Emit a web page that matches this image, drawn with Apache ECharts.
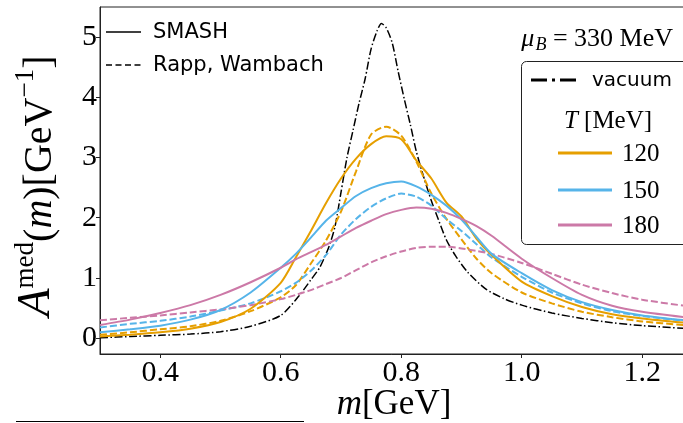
<!DOCTYPE html>
<html><head><meta charset="utf-8">
<script src="https://cdn.jsdelivr.net/npm/echarts@6/dist/echarts.min.js"></script>
<style>html,body{margin:0;padding:0;background:#fff}#c{width:683px;height:423px}</style>
</head><body><div id="c"></div>
<script>
// ---- data ----
const massGrid = [0.30, 0.35, 0.40, 0.45, 0.50, 0.55, 0.60, 0.625, 0.65, 0.675, 0.70, 0.725, 0.75, 0.775, 0.80, 0.825, 0.85, 0.875, 0.90, 0.925, 0.95, 1.00, 1.05, 1.10, 1.15, 1.20, 1.27];
const smash120 = [0.03, 0.06, 0.10, 0.16, 0.27, 0.49, 0.92, 1.34, 1.78, 2.24, 2.65, 2.98, 3.22, 3.35, 3.30, 2.95, 2.65, 2.25, 2.02, 1.65, 1.38, 0.94, 0.70, 0.52, 0.40, 0.33, 0.26];
const rw120    = [0.06, 0.10, 0.15, 0.20, 0.29, 0.45, 0.68, 0.88, 1.24, 1.62, 2.10, 2.77, 3.38, 3.51, 3.36, 2.93, 2.40, 1.98, 1.64, 1.32, 1.08, 0.76, 0.58, 0.44, 0.35, 0.28, 0.22];
const smash150 = [0.10, 0.15, 0.21, 0.31, 0.47, 0.76, 1.17, 1.40, 1.67, 1.95, 2.16, 2.36, 2.49, 2.57, 2.60, 2.52, 2.38, 2.20, 1.97, 1.68, 1.40, 1.08, 0.80, 0.60, 0.47, 0.38, 0.30];
const rw150    = [0.18, 0.24, 0.29, 0.36, 0.46, 0.58, 0.78, 0.92, 1.12, 1.38, 1.72, 1.98, 2.18, 2.32, 2.40, 2.35, 2.20, 1.98, 1.78, 1.56, 1.34, 1.02, 0.76, 0.58, 0.45, 0.37, 0.29];
const smash180 = [0.22, 0.31, 0.42, 0.55, 0.72, 0.93, 1.17, 1.31, 1.43, 1.55, 1.69, 1.83, 1.95, 2.06, 2.13, 2.17, 2.15, 2.08, 1.98, 1.86, 1.70, 1.32, 1.00, 0.72, 0.54, 0.44, 0.35];
const rw180    = [0.30, 0.34, 0.38, 0.43, 0.48, 0.55, 0.65, 0.72, 0.80, 0.90, 1.00, 1.13, 1.26, 1.36, 1.44, 1.50, 1.52, 1.52, 1.49, 1.45, 1.40, 1.25, 1.07, 0.89, 0.75, 0.64, 0.54];
const vacMass  = [0.30, 0.35, 0.40, 0.45, 0.50, 0.55, 0.60, 0.63, 0.65, 0.665, 0.68, 0.69, 0.70, 0.71, 0.72, 0.73, 0.74, 0.75, 0.76, 0.767, 0.775, 0.785, 0.795, 0.805, 0.815, 0.825, 0.835, 0.85, 0.862, 0.875, 0.89, 0.91, 0.94, 0.97, 1.00, 1.05, 1.10, 1.15, 1.20, 1.27];
const vacuum   = [0.01, 0.03, 0.05, 0.07, 0.11, 0.20, 0.38, 0.70, 0.97, 1.18, 1.52, 1.85, 2.42, 3.00, 3.45, 3.90, 4.30, 4.80, 5.10, 5.22, 5.15, 4.90, 4.42, 3.97, 3.55, 3.10, 2.75, 2.28, 1.96, 1.63, 1.37, 1.10, 0.82, 0.66, 0.55, 0.42, 0.33, 0.26, 0.21, 0.165];
const xTicks = [0.4, 0.6, 0.8, 1.0, 1.2];
const yTicks = [0, 1, 2, 3, 4, 5];
const tempLabels = ['120', '150', '180'];
const colors = ['#E69F00', '#56B4E9', '#CC79A7'];

// ---- build ----
const pair = (xs, ys) => xs.map((x, i) => [x, ys[i]]);
const SERIF = 'Liberation Serif';
const dash = [7, 3];

const curves = [
  { d: vacuum, x: vacMass, c: '#000', t: [8, 2.5, 1.5, 2.5], w: 1.5 },
  { d: rw120, x: massGrid, c: colors[0], t: dash, w: 2 },
  { d: rw150, x: massGrid, c: colors[1], t: dash, w: 2 },
  { d: rw180, x: massGrid, c: colors[2], t: dash, w: 2 },
  { d: smash120, x: massGrid, c: colors[0], t: 'solid', w: 2 },
  { d: smash150, x: massGrid, c: colors[1], t: 'solid', w: 2 },
  { d: smash180, x: massGrid, c: colors[2], t: 'solid', w: 2 }
];

const chart = echarts.init(document.getElementById('c'), null, { renderer: 'canvas' });

const legendY = [153, 190, 225];
const graphic = [
  { type: 'line', shape: { x1: 106, y1: 32, x2: 141, y2: 32 }, style: { stroke: '#000', lineWidth: 1.5 } },
  { type: 'text', x: 153, y: 33, style: { text: 'SMASH', font: '21px "DejaVu Sans"', fill: '#000', verticalAlign: 'middle', align: 'left' } },
  { type: 'line', shape: { x1: 106, y1: 65, x2: 142, y2: 65 }, style: { stroke: '#000', lineWidth: 1.5, lineDash: [6, 3.5] } },
  { type: 'text', x: 153, y: 66, style: { text: 'Rapp, Wambach', font: '21px "DejaVu Sans"', fill: '#000', verticalAlign: 'middle', align: 'left' } },
  { type: 'text', x: 673, y: 39, style: {
      text: '{mu|μ}{sub|B}{n| = 330 MeV}', align: 'right', verticalAlign: 'middle', fill: '#000',
      rich: {
        mu: { fontFamily: SERIF, fontStyle: 'italic', fontSize: 26, lineHeight: 30, verticalAlign: 'middle' },
        sub: { fontFamily: SERIF, fontStyle: 'italic', fontSize: 18, lineHeight: 30, verticalAlign: 'bottom', padding: [0, 0, 0, 1] },
        n: { fontFamily: SERIF, fontSize: 26, lineHeight: 30, verticalAlign: 'middle' }
      } } },
  { type: 'rect', shape: { x: 521.5, y: 61.5, width: 180, height: 183, r: 5 }, style: { fill: '#fff', stroke: '#222', lineWidth: 1 }, z: 10 },
  { type: 'line', shape: { x1: 531, y1: 80, x2: 578, y2: 80 }, style: { stroke: '#000', lineWidth: 3, lineDash: [16, 5, 3, 5] }, z: 11 },
  { type: 'text', x: 592, y: 81, z: 11, style: { text: 'vacuum', font: '20px "DejaVu Sans"', fill: '#000', verticalAlign: 'middle', align: 'left' } },
  { type: 'text', x: 608, y: 121, z: 11, style: {
      text: '{i|T}{n| [MeV]}', align: 'center', verticalAlign: 'middle', fill: '#000',
      rich: {
        i: { fontFamily: SERIF, fontStyle: 'italic', fontSize: 25, lineHeight: 28 },
        n: { fontFamily: SERIF, fontSize: 25, lineHeight: 28 }
      } } },
  { type: 'line', shape: { x1: 16, y1: 421.5, x2: 304, y2: 421.5 }, style: { stroke: '#000', lineWidth: 1 } },
  // x-axis title
  { type: 'text', x: 394, y: 405, style: {
      text: '{i|m}{n|[GeV]}', align: 'center', verticalAlign: 'middle', fill: '#000',
      rich: {
        i: { fontFamily: SERIF, fontStyle: 'italic', fontSize: 35, lineHeight: 38 },
        n: { fontFamily: SERIF, fontSize: 35, lineHeight: 38 }
      } } },
  // y-axis title
  { type: 'text', x: 36, y: 186, rotation: Math.PI / 2, style: {
      text: '{A|A}{sup|med}{n|(}{i|m}{n|)[GeV}{sup|−1}{n|]}', align: 'center', verticalAlign: 'middle', fill: '#000',
      rich: {
        A: { fontFamily: SERIF, fontStyle: 'italic', fontSize: 46, lineHeight: 48, verticalAlign: 'bottom' },
        i: { fontFamily: SERIF, fontStyle: 'italic', fontSize: 40, lineHeight: 48, verticalAlign: 'bottom' },
        n: { fontFamily: SERIF, fontSize: 40, lineHeight: 48, verticalAlign: 'bottom' },
        sup: { fontFamily: SERIF, fontSize: 27, lineHeight: 31, verticalAlign: 'top' }
      } } }
];
tempLabels.forEach((lab, i) => {
  graphic.push({ type: 'line', z: 11, shape: { x1: 558, y1: legendY[i], x2: 612, y2: legendY[i] }, style: { stroke: colors[i], lineWidth: 3 } });
  graphic.push({ type: 'text', z: 11, x: 622, y: legendY[i] + 1, style: { text: lab, font: '25px "Liberation Serif"', fill: '#000', verticalAlign: 'middle', align: 'left' } });
});

chart.setOption({
  animation: false,
  backgroundColor: '#fff',
  grid: { left: 100, right: -2, top: 7, bottom: 69, show: true, borderColor: '#222', borderWidth: 1, containLabel: false, outerBoundsMode: 'none' },
  xAxis: {
    type: 'value', min: 0.3, max: 1.271,
    axisLine: { show: true, onZero: false, lineStyle: { color: '#222', width: 1 } },
    axisTick: { show: true, length: 4, customValues: xTicks, lineStyle: { color: '#222' } },
    axisLabel: { customValues: xTicks, formatter: v => v.toFixed(1), fontFamily: SERIF, fontSize: 30, color: '#000', margin: 4 },
    splitLine: { show: false }
  },
  yAxis: {
    type: 'value', min: -0.26, max: 5.494,
    axisLine: { show: true, onZero: false, lineStyle: { color: '#222', width: 1 } },
    axisTick: { show: true, length: 4, customValues: yTicks, lineStyle: { color: '#222' } },
    axisLabel: { customValues: yTicks, formatter: v => String(v), fontFamily: SERIF, fontSize: 30, color: '#000', margin: 3 },
    splitLine: { show: false }
  },
  graphic: graphic,
  series: curves.map(s => ({
    type: 'line', data: pair(s.x, s.d), showSymbol: false, smooth: 0.25,
    lineStyle: { color: s.c, width: s.w, type: s.t }, clip: true, silent: true
  }))
});
</script></body></html>
